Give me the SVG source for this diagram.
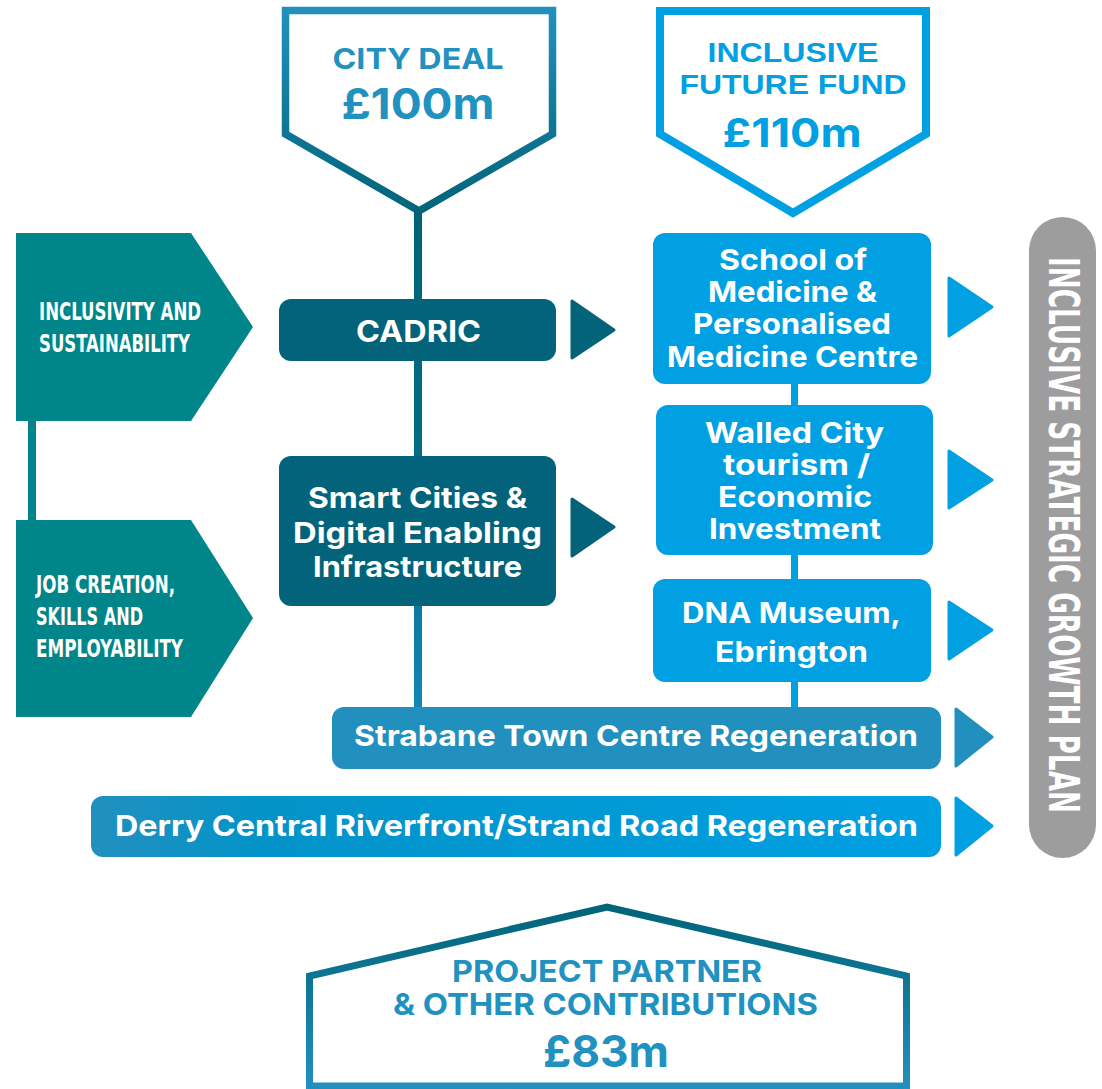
<svg xmlns="http://www.w3.org/2000/svg" width="1102" height="1089" viewBox="0 0 1102 1089">
<defs>
<linearGradient id="gCity" gradientUnits="userSpaceOnUse" x1="0" y1="7" x2="0" y2="216"><stop offset="0" stop-color="#2291bf"/><stop offset="1" stop-color="#006377"/></linearGradient>
<linearGradient id="gHouse" gradientUnits="userSpaceOnUse" x1="0" y1="903" x2="0" y2="1089"><stop offset="0" stop-color="#006377"/><stop offset="1" stop-color="#2291bf"/></linearGradient>
<linearGradient id="gSpine" gradientUnits="userSpaceOnUse" x1="0" y1="207" x2="0" y2="710"><stop offset="0" stop-color="#006377"/><stop offset="0.55" stop-color="#006e88"/><stop offset="1" stop-color="#1287b6"/></linearGradient>
<linearGradient id="gDerry" x1="0" y1="0" x2="1" y2="0"><stop offset="0" stop-color="#2290be"/><stop offset="0.2" stop-color="#0393c8"/><stop offset="1" stop-color="#00a0e3"/></linearGradient>
<style>
.mont{font-family:Inter,"Open Sans","Liberation Sans",sans-serif;font-weight:700;text-anchor:middle}
.lib{font-family:"Liberation Sans",Arial,sans-serif;font-weight:700;text-anchor:middle}
.cond{font-family:"Liberation Sans Narrow","DejaVu Sans Condensed","Liberation Sans",sans-serif;font-weight:700;font-stretch:condensed}
.w{fill:#ffffff}
.dark{fill:#02637a}
.lb{fill:#00a0e3}
.teal{fill:#00868a}
.arrow{stroke-linejoin:round;stroke-width:3}
</style>
</defs>
<rect width="1102" height="1089" fill="#ffffff"/>

<g id="connectors">
<rect x="414" y="205" width="8" height="505" fill="url(#gSpine)"/>
<rect x="791" y="380" width="7" height="330" fill="#00a0e3"/>
<rect x="28" y="418" width="8" height="105" fill="#00868a"/>
<polygon class="arrow" points="572,301 614,330 572,358" fill="#02637a" stroke="#02637a"/>
<polygon class="arrow" points="572,499 614,527 572,556" fill="#02637a" stroke="#02637a"/>
<polygon class="arrow" points="949,278 992,307 949,336" fill="#00a0e3" stroke="#00a0e3"/>
<polygon class="arrow" points="949,451 992,480 949,508" fill="#00a0e3" stroke="#00a0e3"/>
<polygon class="arrow" points="949,602 992,630 949,659" fill="#00a0e3" stroke="#00a0e3"/>
<polygon class="arrow" points="956,709 992,737 956,766" fill="#2190be" stroke="#2190be"/>
<polygon class="arrow" points="956,798 992,826 956,855" fill="#00a0e3" stroke="#00a0e3"/>
</g>

<g id="city-deal">
<path d="M285.5,10.5 H552.5 V134 L419,211 L285.5,134 Z" fill="#ffffff" stroke="url(#gCity)" stroke-width="7.5"/>
<text class="mont" x="418" y="69" font-size="29" fill="#2191c0" textLength="171" lengthAdjust="spacingAndGlyphs">CITY DEAL</text>
<text class="mont" x="418" y="119" font-size="43" fill="#2191c0" textLength="153" lengthAdjust="spacingAndGlyphs">£100m</text>
</g>

<g id="inclusive-future-fund">
<path d="M660,11 H926 V134 L793,213 L660,134 Z" fill="#ffffff" stroke="#00a0e3" stroke-width="8"/>
<text class="lib" x="793" y="62" font-size="28.5" fill="#00a0e3" textLength="171" lengthAdjust="spacingAndGlyphs">INCLUSIVE</text>
<text class="lib" x="793" y="94" font-size="28.5" fill="#00a0e3" textLength="227" lengthAdjust="spacingAndGlyphs">FUTURE FUND</text>
<text class="mont" x="792" y="147" font-size="40" fill="#00a0e3" textLength="139" lengthAdjust="spacingAndGlyphs">£110m</text>
</g>

<g id="inclusivity">
<polygon class="teal" points="16,233 191,233 253,327 191,421 16,421"/>
<text class="cond w" x="39" y="320" font-size="25" textLength="162" lengthAdjust="spacingAndGlyphs">INCLUSIVITY AND</text>
<text class="cond w" x="39" y="352" font-size="25" textLength="151" lengthAdjust="spacingAndGlyphs">SUSTAINABILITY</text>
</g>

<g id="job-creation">
<polygon class="teal" points="16,520 191,520 253,618 191,717 16,717"/>
<text class="cond w" x="36" y="593" font-size="25" textLength="139" lengthAdjust="spacingAndGlyphs">JOB CREATION,</text>
<text class="cond w" x="36" y="625" font-size="25" textLength="107" lengthAdjust="spacingAndGlyphs">SKILLS AND</text>
<text class="cond w" x="36" y="657" font-size="25" textLength="147" lengthAdjust="spacingAndGlyphs">EMPLOYABILITY</text>
</g>

<g id="cadric">
<rect class="dark" x="279" y="299" width="277" height="62" rx="12"/>
<text class="mont w" x="418.5" y="342" font-size="30" textLength="125" lengthAdjust="spacingAndGlyphs">CADRIC</text>
</g>

<g id="smart-cities">
<rect class="dark" x="279" y="456" width="277" height="150" rx="12"/>
<text class="mont w" x="417.5" y="508" font-size="29" textLength="219" lengthAdjust="spacingAndGlyphs">Smart Cities &amp;</text>
<text class="mont w" x="417.5" y="543" font-size="29" textLength="249" lengthAdjust="spacingAndGlyphs">Digital Enabling</text>
<text class="mont w" x="417.5" y="577" font-size="29" textLength="209" lengthAdjust="spacingAndGlyphs">Infrastructure</text>
</g>

<g id="school-of-medicine">
<rect class="lb" x="653" y="233" width="278" height="151" rx="12"/>
<text class="mont w" x="793" y="270" font-size="29" textLength="148" lengthAdjust="spacingAndGlyphs">School of</text>
<text class="mont w" x="792.5" y="302" font-size="29" textLength="169" lengthAdjust="spacingAndGlyphs">Medicine &amp;</text>
<text class="mont w" x="792" y="334" font-size="29" textLength="198" lengthAdjust="spacingAndGlyphs">Personalised</text>
<text class="mont w" x="792.5" y="367" font-size="29" textLength="251" lengthAdjust="spacingAndGlyphs">Medicine Centre</text>
</g>

<g id="walled-city">
<rect class="lb" x="656" y="405" width="277" height="150" rx="12"/>
<text class="mont w" x="794.5" y="443" font-size="29" textLength="179" lengthAdjust="spacingAndGlyphs">Walled City</text>
<text class="mont w" x="796.5" y="475" font-size="29" textLength="147" lengthAdjust="spacingAndGlyphs">tourism /</text>
<text class="mont w" x="795" y="507" font-size="29" textLength="154" lengthAdjust="spacingAndGlyphs">Economic</text>
<text class="mont w" x="795" y="539" font-size="29" textLength="172" lengthAdjust="spacingAndGlyphs">Investment</text>
</g>

<g id="dna-museum">
<rect class="lb" x="653" y="579" width="278" height="103" rx="12"/>
<text class="mont w" x="791.5" y="623" font-size="29" textLength="219" lengthAdjust="spacingAndGlyphs">DNA Museum,</text>
<text class="mont w" x="791.5" y="662" font-size="29" textLength="153" lengthAdjust="spacingAndGlyphs">Ebrington</text>
</g>

<g id="strabane">
<rect x="332" y="707" width="609" height="62" rx="12" fill="#2190be"/>
<text class="mont w" x="636" y="746" font-size="29" textLength="564" lengthAdjust="spacingAndGlyphs">Strabane Town Centre Regeneration</text>
</g>

<g id="derry">
<rect x="91" y="796" width="850" height="61" rx="12" fill="url(#gDerry)"/>
<text class="mont w" x="516.5" y="836" font-size="29" textLength="803" lengthAdjust="spacingAndGlyphs">Derry Central Riverfront/Strand Road Regeneration</text>
</g>

<g id="growth-plan">
<rect x="1029" y="217" width="67" height="641" rx="33.5" fill="#9d9d9d"/>
<text class="cond w" transform="translate(1049,257) rotate(90)" x="0" y="0" font-size="42" font-weight="400" textLength="556" lengthAdjust="spacingAndGlyphs">INCLUSIVE STRATEGIC GROWTH PLAN</text>
</g>

<g id="project-partner">
<path d="M309.5,1086 V976 L607,907 L906.5,976 V1086 Z" fill="#ffffff" stroke="url(#gHouse)" stroke-width="7"/>
<text class="mont" x="607" y="982" font-size="30" fill="#2191c0" textLength="310" lengthAdjust="spacingAndGlyphs">PROJECT PARTNER</text>
<text class="mont" x="605.5" y="1015" font-size="30" fill="#2191c0" textLength="425" lengthAdjust="spacingAndGlyphs">&amp; OTHER CONTRIBUTIONS</text>
<text class="mont" x="606" y="1067" font-size="44" fill="#2191c0" textLength="126" lengthAdjust="spacingAndGlyphs">£83m</text>
</g>
</svg>
